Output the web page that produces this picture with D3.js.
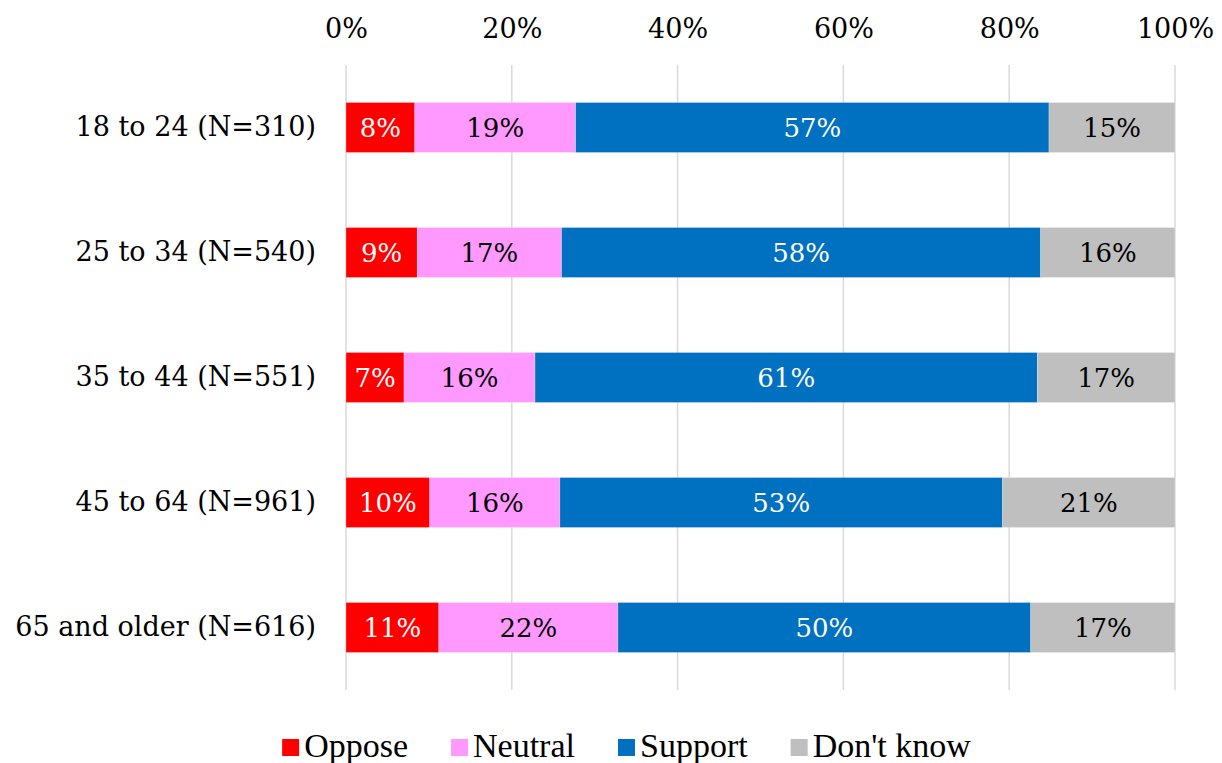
<!DOCTYPE html>
<html>
<head>
<meta charset="utf-8">
<script src="https://cdn.jsdelivr.net/npm/d3@7"></script>
<style>
  html, body { margin: 0; padding: 0; background: #fff; }
  svg { display: block; }
</style>
</head>
<body>
<svg id="chart" width="1222" height="763"></svg>
<script>
// Age groups (top to bottom)
const categories = [
  "18 to 24 (N=310)",
  "25 to 34 (N=540)",
  "35 to 44 (N=551)",
  "45 to 64 (N=961)",
  "65 and older (N=616)"
];

// Response shares per age group, in percent
const oppose   = [8.3, 8.6, 7.0, 10.1, 11.2];
const neutral  = [19.4, 17.4, 15.8, 15.7, 21.6];
const support  = [57.1, 57.8, 60.6, 53.4, 49.8];
const dontKnow = [15.2, 16.2, 16.6, 20.8, 17.4];

const seriesNames  = ["Oppose", "Neutral", "Support", "Don't know"];
const seriesColors = ["#FF0000", "#FF99FF", "#0070C0", "#BFBFBF"];
const labelColors  = ["#FFFFFF", "#000000", "#FFFFFF", "#000000"];
const tickValues   = [0, 20, 40, 60, 80, 100];

const seriesValues = [oppose, neutral, support, dontKnow];
const rows = categories.map((c, i) => {
  const r = { category: c };
  seriesNames.forEach((s, k) => { r[s] = seriesValues[k][i]; });
  return r;
});

const svg = d3.select("#chart");
const mainFont = "'DejaVu Serif', Georgia, serif";
const legendFont = "'Liberation Serif', 'Times New Roman', serif";

const plotLeft = 346, plotRight = 1175, plotTop = 65, plotBottom = 690;

const x = d3.scaleLinear().domain([0, 100]).range([plotLeft, plotRight]);
const y = d3.scaleBand().domain(categories).range([plotTop, plotBottom])
  .paddingInner(0.6).paddingOuter(0.3);

// Vertical gridlines
svg.append("g").selectAll("line")
  .data(tickValues)
  .join("line")
  .attr("x1", d => x(d)).attr("x2", d => x(d))
  .attr("y1", plotTop).attr("y2", plotBottom)
  .attr("stroke", "#D9D9D9")
  .attr("stroke-width", 1.5);

// Top axis with percentage ticks
const xAxis = d3.axisTop(x)
  .tickValues(tickValues)
  .tickSize(0)
  .tickPadding(0)
  .tickFormat(d => d + "%");

const gx = svg.append("g")
  .attr("transform", `translate(0,${plotTop - 27})`)
  .call(xAxis);
gx.select(".domain").remove();
gx.selectAll("text")
  .attr("font-family", mainFont)
  .attr("font-size", 27)
  .attr("fill", "#000");

// Category labels
const gy = svg.append("g")
  .attr("transform", `translate(${plotLeft - 30},0)`)
  .call(d3.axisLeft(y).tickSize(0).tickPadding(0));
gy.select(".domain").remove();
gy.selectAll("text")
  .attr("font-family", mainFont)
  .attr("font-size", 27)
  .attr("fill", "#000");

// Stacked bars
const stacked = d3.stack().keys(seriesNames)(rows);

const layers = svg.append("g").selectAll("g")
  .data(stacked)
  .join("g")
  .attr("fill", (d, i) => seriesColors[i]);

layers.selectAll("rect")
  .data(d => d.map(p => ({ p, cat: p.data.category })))
  .join("rect")
  .attr("x", d => x(d.p[0]))
  .attr("y", d => y(d.cat))
  .attr("width", d => x(d.p[1]) - x(d.p[0]))
  .attr("height", y.bandwidth())
  .attr("stroke", "#FFFFFF")
  .attr("stroke-opacity", 0.35)
  .attr("stroke-width", 0.75);

// Value labels
layers.selectAll("text")
  .data((d, i) => d.map(p => ({ p, cat: p.data.category, k: i })))
  .join("text")
  .attr("x", d => (x(d.p[0]) + x(d.p[1])) / 2)
  .attr("y", d => y(d.cat) + y.bandwidth() / 2)
  .attr("dy", "0.36em")
  .attr("text-anchor", "middle")
  .attr("font-family", mainFont)
  .attr("font-size", 26)
  .attr("fill", d => labelColors[d.k])
  .text(d => Math.round(d.p[1] - d.p[0]) + "%");

// Legend
const legend = svg.append("g");
const items = legend.selectAll("g")
  .data(seriesNames)
  .join("g");

items.append("rect")
  .attr("width", 17).attr("height", 17)
  .attr("y", -18)
  .attr("fill", (d, i) => seriesColors[i]);

items.append("text")
  .attr("x", 22)
  .attr("font-family", legendFont)
  .attr("font-size", 34)
  .attr("fill", "#000")
  .text(d => d);

const widths = [];
items.each(function () {
  widths.push(22 + d3.select(this).select("text").node().getComputedTextLength());
});
const gap = 43;
const total = d3.sum(widths) + gap * (widths.length - 1);
const startX = 626.5 - total / 2;
let offset = 0;
items.attr("transform", (d, i) => {
  const tx = startX + offset;
  offset += widths[i] + gap;
  return `translate(${tx},757)`;
});
</script>
</body>
</html>
